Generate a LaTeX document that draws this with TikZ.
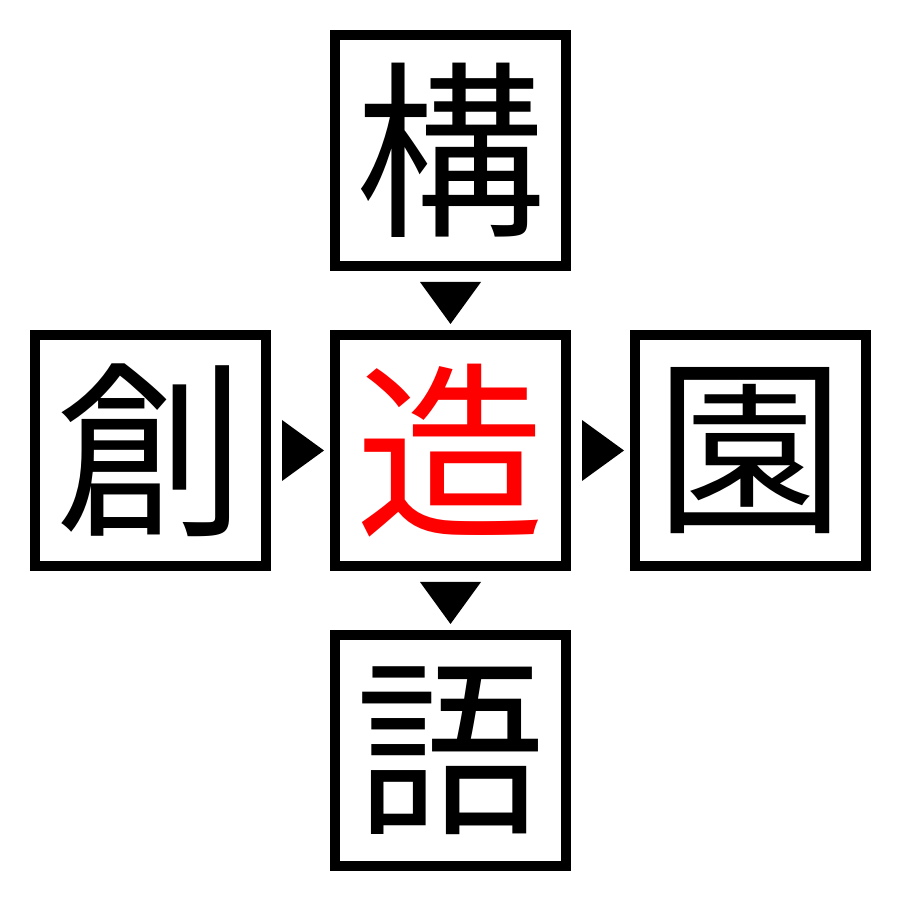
\documentclass[tikz,border=0pt]{standalone}
\usepackage{fontspec}
\newfontfamily\cjk{Noto Sans CJK JP}
\usetikzlibrary{positioning,calc}
\tikzstyle{kanji} = [draw, line width=1mm, rectangle, minimum size=2.31cm,
    inner sep=0pt, outer sep=0pt, font=\cjk\fontsize{54}{54}\selectfont]

\begin{document}
\begin{tikzpicture}[node distance=3cm, on grid]
    \useasboundingbox (0,0) rectangle (9,9);
    % We start by placing the boxes round the middle one
    \node [kanji, text=red] (mid) at (4.505,4.495) {造};
    \node [kanji, above=of mid] (top) {構};
    \node [kanji, below=of mid] (bottom) {語};
    \node [kanji, left=of mid] (left) {創};
    \node [kanji, right=of mid] (right) {園};

    % The arrow heads sit in the gaps between the boxes
    \fill ($(top.south)+(-0.305,-0.16)$) -- ++(0.61,0)
        -- ($(top.south)+(0,-0.58)$) -- cycle;
    \fill ($(mid.south)+(-0.305,-0.16)$) -- ++(0.61,0)
        -- ($(mid.south)+(0,-0.58)$) -- cycle;
    \fill ($(left.east)+(0.16,0.305)$) -- ++(0,-0.61)
        -- ($(left.east)+(0.58,0)$) -- cycle;
    \fill ($(mid.east)+(0.16,0.305)$) -- ++(0,-0.61)
        -- ($(mid.east)+(0.58,0)$) -- cycle;
\end{tikzpicture}
\end{document}
